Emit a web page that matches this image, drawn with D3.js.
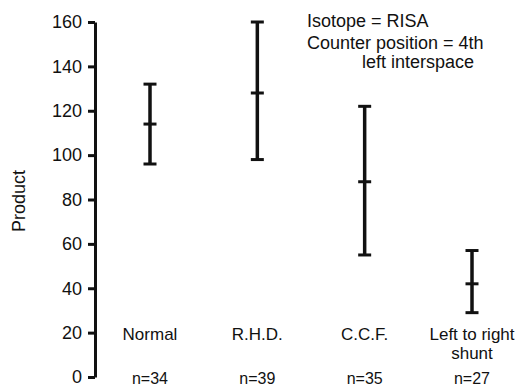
<!DOCTYPE html>
<html>
<head>
<meta charset="utf-8">
<script src="https://cdn.jsdelivr.net/npm/d3@7"></script>
<style>
  body { margin: 0; background: #fff; }
  text { font-family: "Liberation Sans", Arial, sans-serif; fill: #111; }
  .axis path, .axis line { stroke: #111; stroke-width: 3; }
  .axis text { font-size: 18px; }
  .bar { stroke: #111; stroke-width: 3.5; }
</style>
</head>
<body>
<div class="chart"></div>
<script>
var groups = ["Normal", "R.H.D.", "C.C.F.", "Left to right shunt"];
var groupLines = [["Normal"], ["R.H.D."], ["C.C.F."], ["Left to right", "shunt"]];
var counts = ["n=34", "n=39", "n=35", "n=27"];
var means = [114, 128, 88, 42];
var upper = [132, 160, 122, 57];
var lower = [96, 98, 55, 29];
var yTicks = [0, 20, 40, 60, 80, 100, 120, 140, 160];
var note = ["Isotope = RISA", "Counter position = 4th", "left interspace"];

function init() {
    var w = 528;
    var h = 386;

    var dataset = groups.map(function (g, i) {
        return { group: g, lines: groupLines[i], n: counts[i], mean: means[i], hi: upper[i], lo: lower[i] };
    });

    var xScale = d3.scalePoint()
        .domain(groups)
        .range([150, 472]);

    var yScale = d3.scaleLinear()
        .domain([0, 160])
        .range([377, 22]);

    var svg = d3.select(".chart")
        .append("svg")
        .attr("width", w)
        .attr("height", h);

    var yAxis = d3.axisLeft(yScale)
        .tickValues(yTicks)
        .tickSize(7)
        .tickSizeOuter(0)
        .tickPadding(6);

    svg.append("g")
        .attr("class", "axis")
        .attr("transform", "translate(95,0)")
        .call(yAxis);

    svg.append("text")
        .attr("transform", "translate(25,201) rotate(-90)")
        .attr("text-anchor", "middle")
        .style("font-size", "18px")
        .text("Product");

    var cap = 6.5;
    var bars = svg.selectAll(".errbar")
        .data(dataset)
        .enter()
        .append("g")
        .attr("class", "errbar");

    bars.append("line")
        .attr("class", "bar")
        .attr("x1", function (d) { return xScale(d.group); })
        .attr("x2", function (d) { return xScale(d.group); })
        .attr("y1", function (d) { return yScale(d.hi); })
        .attr("y2", function (d) { return yScale(d.lo); });

    ["hi", "mean", "lo"].forEach(function (k) {
        bars.append("line")
            .attr("class", "bar")
            .style("stroke-width", 3)
            .attr("x1", function (d) { return xScale(d.group) - cap; })
            .attr("x2", function (d) { return xScale(d.group) + cap; })
            .attr("y1", function (d) { return yScale(d[k]); })
            .attr("y2", function (d) { return yScale(d[k]); });
    });

    // group names under the bars
    bars.append("text")
        .attr("text-anchor", "middle")
        .style("font-size", "17px")
        .selectAll("tspan")
        .data(function (d) { return d.lines.map(function (l) { return { l: l, x: xScale(d.group) }; }); })
        .enter()
        .append("tspan")
        .attr("x", function (d) { return d.x; })
        .attr("y", function (d, i) { return 340 + i * 19; })
        .text(function (d) { return d.l; });

    bars.append("text")
        .attr("text-anchor", "middle")
        .attr("x", function (d) { return xScale(d.group); })
        .attr("y", 384)
        .style("font-size", "16px")
        .text(function (d) { return d.n; });

    // note in the top right
    var noteX = [307, 307, 362];
    var noteY = [27, 49, 68];
    svg.append("g")
        .selectAll("text")
        .data(note)
        .enter()
        .append("text")
        .attr("x", function (d, i) { return noteX[i]; })
        .attr("y", function (d, i) { return noteY[i]; })
        .style("font-size", "18px")
        .text(function (d) { return d; });
}

init();
</script>
</body>
</html>
